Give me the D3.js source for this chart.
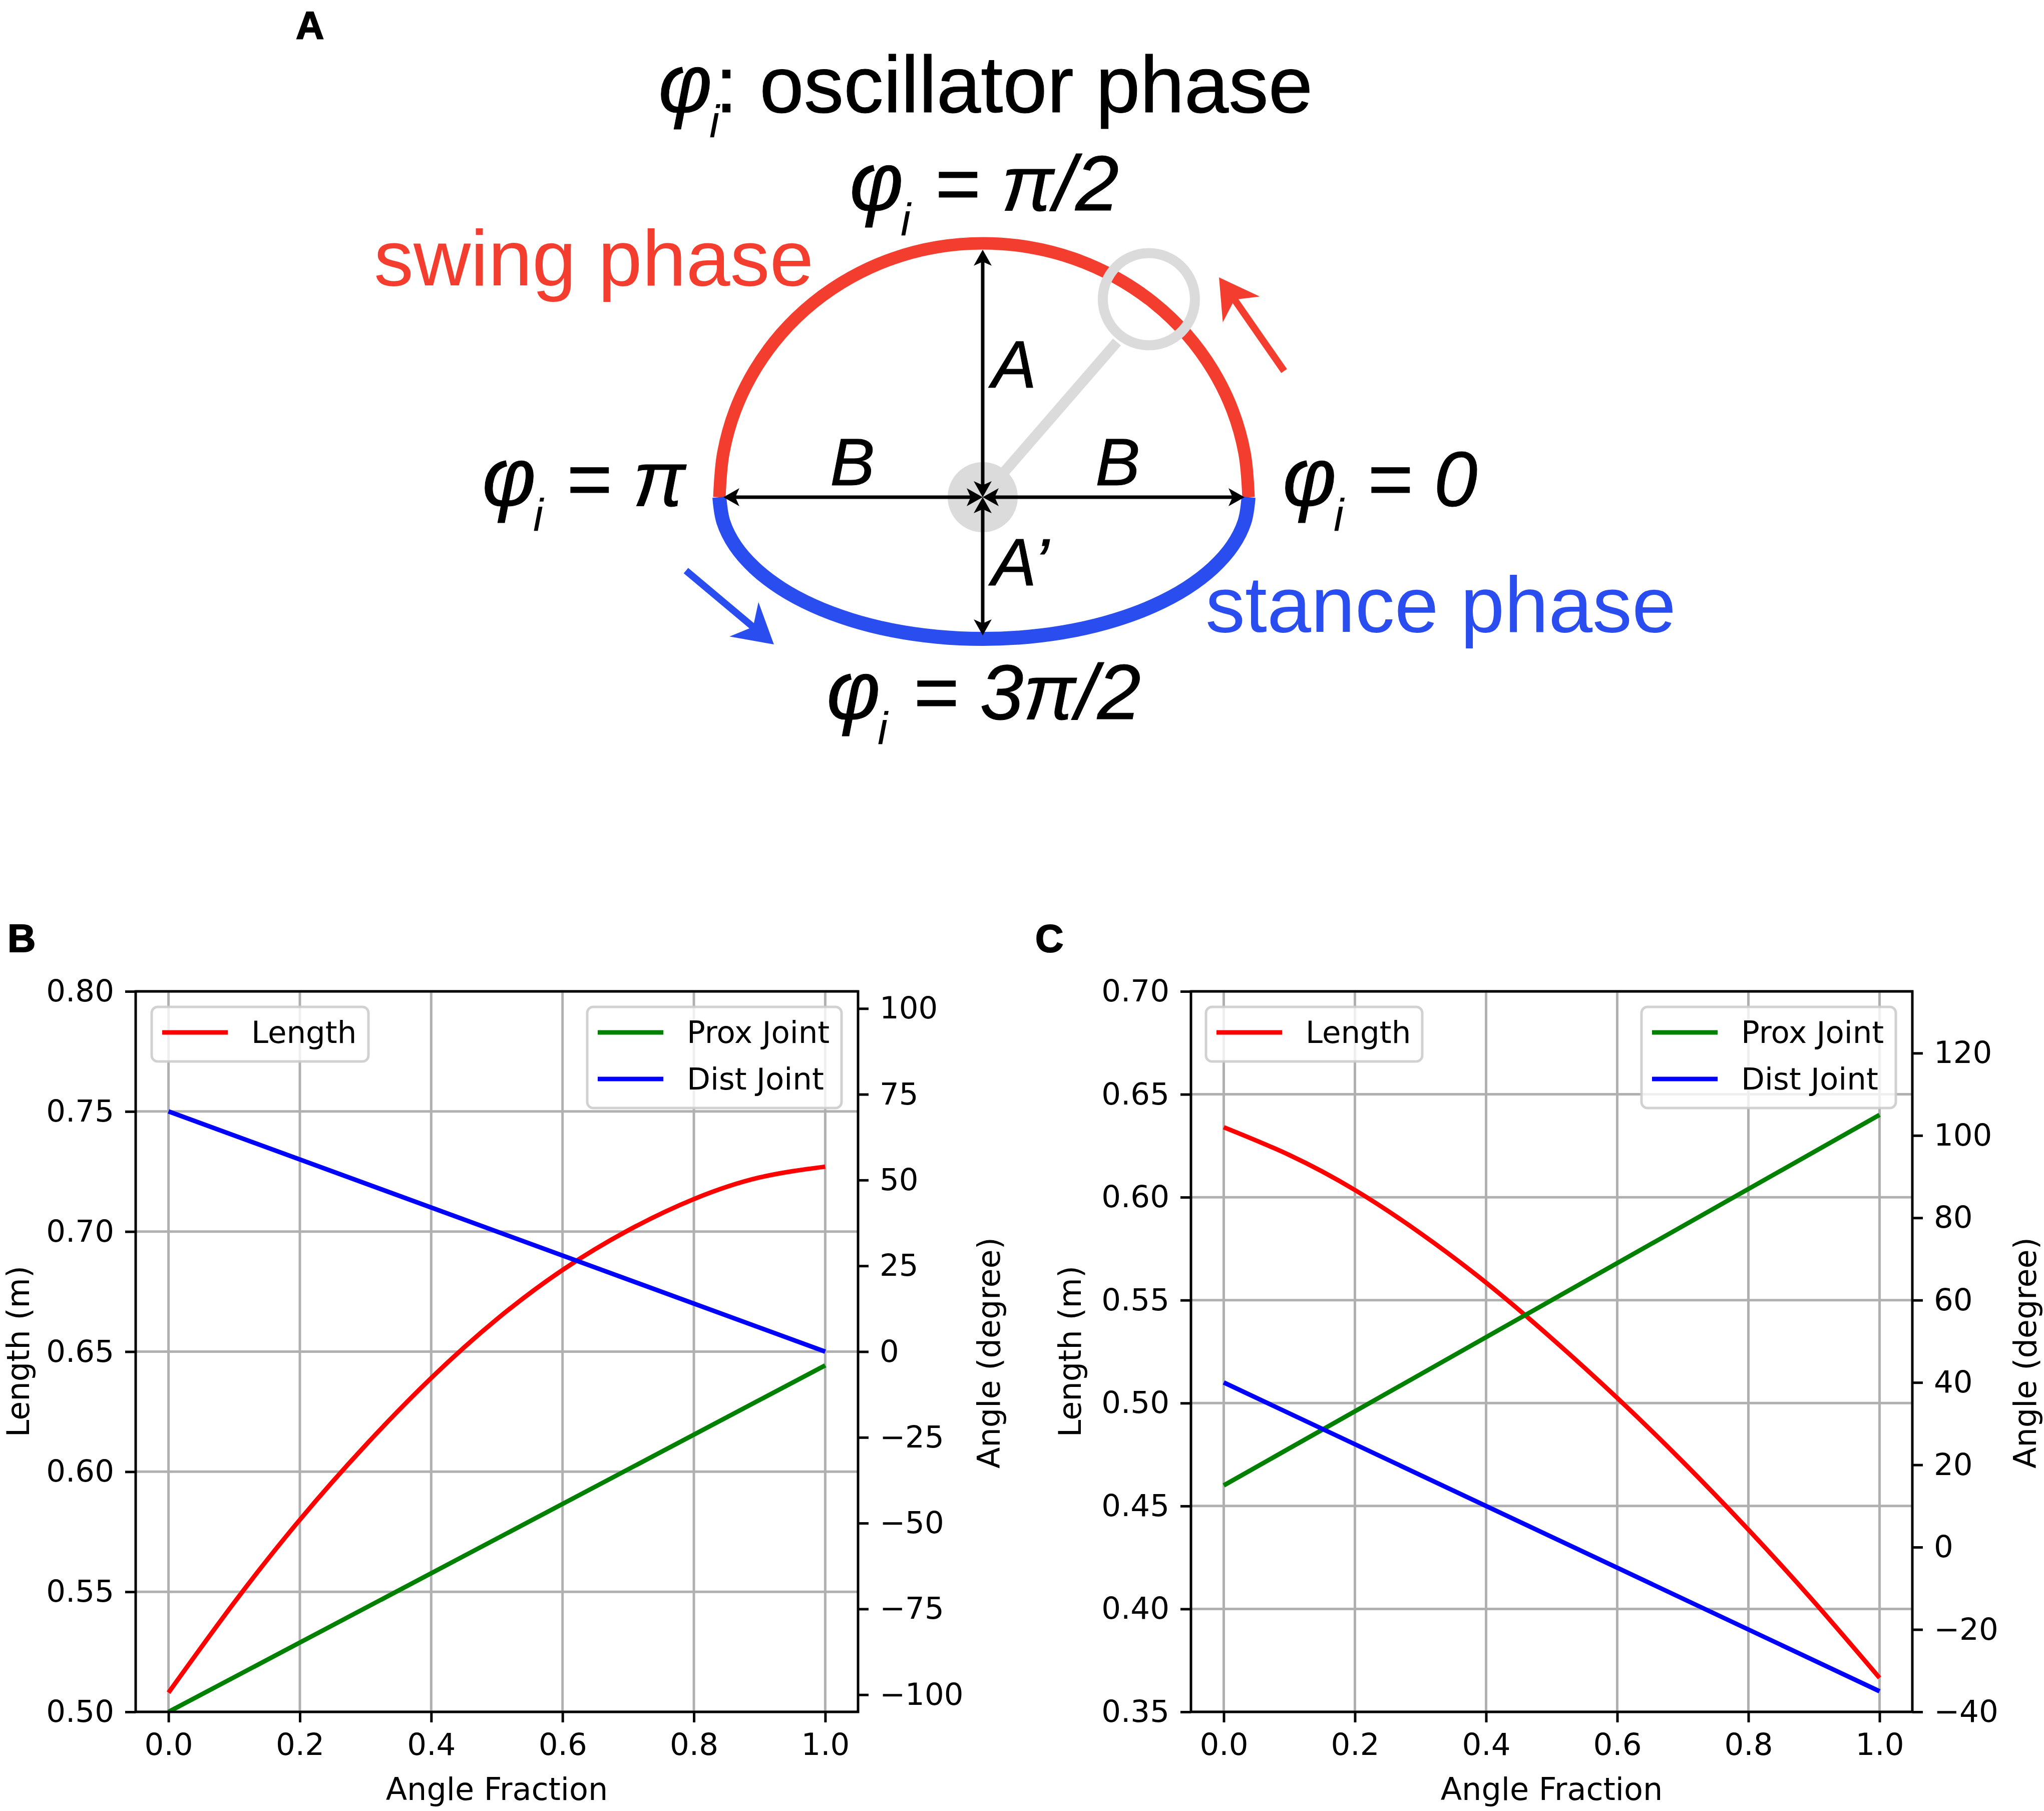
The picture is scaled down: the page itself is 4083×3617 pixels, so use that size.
<!DOCTYPE html>
<html>
<head>
<meta charset="utf-8">
<script src="https://cdn.jsdelivr.net/npm/d3@7"></script>
<style>
  html, body { margin: 0; background: #fff; }
  .mpl text { font-family: "DejaVu Sans"; fill: #000; }
  .sketch text { font-family: "Liberation Sans"; fill: #000; }
</style>
</head>
<body>
<div id="chart"></div>
<script>
// panel B and C values
const fractionTicks = [0, 0.2, 0.4, 0.6, 0.8, 1];
const fractionSamples = [0, 0.1, 0.2, 0.3, 0.4, 0.5, 0.6, 0.7, 0.8, 0.9, 1];
const jointSamples = [0, 1];

const lengthTicksB = [0.5, 0.55, 0.6, 0.65, 0.7, 0.75, 0.8];
const angleTicksB = [-100, -75, -50, -25, 0, 25, 50, 75, 100];
const lengthB = [0.508, 0.5455, 0.58, 0.611, 0.639, 0.6635, 0.684, 0.7005, 0.7135, 0.7225, 0.727];
const proxB = [-105, -4];
const distB = [70, 0];

const lengthTicksC = [0.35, 0.4, 0.45, 0.5, 0.55, 0.6, 0.65, 0.7];
const angleTicksC = [-40, -20, 0, 20, 40, 60, 80, 100, 120];
const lengthC = [0.634, 0.6205, 0.6035, 0.5825, 0.5585, 0.5315, 0.5025, 0.4715, 0.4385, 0.4035, 0.3665];
const proxC = [15, 105];
const distC = [40, -35];

// panel A outline, in units of B (x) and A or A' (y)
const outlineX = [1, 0.985, 0.94, 0.866, 0.766, 0.643, 0.5, 0.342, 0.174, 0, -0.174, -0.342, -0.5, -0.643, -0.766, -0.866, -0.94, -0.985, -1];
const swingY = [0, 0.174, 0.342, 0.5, 0.643, 0.766, 0.866, 0.94, 0.985, 1, 0.985, 0.94, 0.866, 0.766, 0.643, 0.5, 0.342, 0.174, 0];
const stanceY = [0, -0.174, -0.342, -0.5, -0.643, -0.766, -0.866, -0.94, -0.985, -1, -0.985, -0.94, -0.866, -0.766, -0.643, -0.5, -0.342, -0.174, 0];

const RED = "#f33e2f", BLUE = "#2a4df0", GREY = "#dbdbdb";

const svg = d3.select("#chart").append("svg")
    .attr("width", 4083)
    .attr("height", 3617)
    .style("display", "block");

const defs = svg.append("defs");
defs.append("marker")
    .attr("id", "tip")
    .attr("markerUnits", "userSpaceOnUse")
    .attr("viewBox", "0 -18 32 36")
    .attr("refX", 8)
    .attr("refY", 0)
    .attr("markerWidth", 32)
    .attr("markerHeight", 36)
    .attr("orient", "auto-start-reverse")
    .append("path")
    .attr("d", "M0,-18L32,0L0,18L8,0Z")
    .attr("fill", "#000");

drawSketch();

drawPanel({
    id: "B", letterX: 15, left: 271, right: 1714,
    lengthDomain: [0.5, 0.8], angleDomain: [-105, 105],
    lengthTicks: lengthTicksB, angleTicks: angleTicksB,
    length: lengthB, prox: proxB, dist: distB,
    lengthLabelX: 58, angleLabelX: 1997,
    lengthBox: [303, 736], jointBox: [1173, 1681]
});

drawPanel({
    id: "C", letterX: 2068, left: 2379, right: 3820,
    lengthDomain: [0.35, 0.7], angleDomain: [-40, 135],
    lengthTicks: lengthTicksC, angleTicks: angleTicksC,
    length: lengthC, prox: proxC, dist: distC,
    lengthLabelX: 2159, angleLabelX: 4067,
    lengthBox: [2409, 2841], jointBox: [3279, 3787]
});

function drawPanel(p) {
    const top = 1980, bottom = 3419;
    const g = svg.append("g").attr("class", "mpl");

    const x = d3.scaleLinear().domain([-0.05, 1.05]).range([p.left, p.right]);
    const yLen = d3.scaleLinear().domain(p.lengthDomain).range([bottom, top]);
    const yAng = d3.scaleLinear().domain(p.angleDomain).range([bottom, top]);

    // grid
    g.append("g").selectAll("line").data(fractionTicks).join("line")
        .attr("x1", d => x(d)).attr("x2", d => x(d))
        .attr("y1", top).attr("y2", bottom)
        .attr("stroke", "#b0b0b0").attr("stroke-width", 5);
    g.append("g").selectAll("line").data(p.lengthTicks).join("line")
        .attr("x1", p.left).attr("x2", p.right)
        .attr("y1", d => yLen(d)).attr("y2", d => yLen(d))
        .attr("stroke", "#b0b0b0").attr("stroke-width", 5);

    // curves
    defs.append("clipPath").attr("id", "clip" + p.id).append("rect")
        .attr("x", p.left).attr("y", top)
        .attr("width", p.right - p.left).attr("height", bottom - top);
    const curves = g.append("g").attr("clip-path", "url(#clip" + p.id + ")");
    const lenLine = d3.line().x((d, i) => x(fractionSamples[i])).y(d => yLen(d)).curve(d3.curveNatural);
    const angLine = d3.line().x((d, i) => x(jointSamples[i])).y(d => yAng(d));
    curves.append("path").attr("d", lenLine(p.length)).attr("fill", "none").attr("stroke", "#ff0000").attr("stroke-width", 9);
    curves.append("path").attr("d", angLine(p.prox)).attr("fill", "none").attr("stroke", "#008000").attr("stroke-width", 9);
    curves.append("path").attr("d", angLine(p.dist)).attr("fill", "none").attr("stroke", "#0000ff").attr("stroke-width", 9);

    // axes
    const styleAxis = a => {
        a.selectAll("text").attr("font-size", 61).attr("font-family", "DejaVu Sans").attr("fill", "#000");
        a.selectAll("line").attr("stroke-width", 5).attr("stroke", "#000");
        a.select(".domain").remove();
    };
    g.append("g").attr("transform", `translate(0,${bottom})`)
        .call(d3.axisBottom(x).tickValues(fractionTicks).tickFormat(d3.format(".1f")).tickSize(21).tickPadding(22))
        .call(styleAxis);
    g.append("g").attr("transform", `translate(${p.left},0)`)
        .call(d3.axisLeft(yLen).tickValues(p.lengthTicks).tickFormat(d3.format(".2f")).tickSize(21).tickPadding(22))
        .call(styleAxis);
    g.append("g").attr("transform", `translate(${p.right},0)`)
        .call(d3.axisRight(yAng).tickValues(p.angleTicks).tickFormat(d3.format("d")).tickSize(21).tickPadding(22))
        .call(styleAxis);

    g.append("rect")
        .attr("x", p.left).attr("y", top)
        .attr("width", p.right - p.left).attr("height", bottom - top)
        .attr("fill", "none").attr("stroke", "#000").attr("stroke-width", 5);

    // axis titles
    g.append("text").text("Angle Fraction")
        .attr("x", (p.left + p.right) / 2).attr("y", 3595)
        .attr("text-anchor", "middle").attr("font-size", 62);
    g.append("text").text("Length (m)")
        .attr("transform", `translate(${p.lengthLabelX},2699) rotate(-90)`)
        .attr("text-anchor", "middle").attr("font-size", 62);
    g.append("text").text("Angle (degree)")
        .attr("transform", `translate(${p.angleLabelX},2702) rotate(-90)`)
        .attr("text-anchor", "middle").attr("font-size", 62);

    // legends
    legend(g, p.lengthBox, 2011, 2120, [["Length", "#ff0000"]]);
    legend(g, p.jointBox, 2011, 2213, [["Prox Joint", "#008000"], ["Dist Joint", "#0000ff"]]);

    svg.append("text").text(p.id)
        .attr("x", p.letterX).attr("y", 1901)
        .attr("font-family", "Liberation Sans").attr("font-weight", "bold")
        .attr("font-size", 78).attr("stroke", "#000").attr("stroke-width", 2);
}

function legend(g, box, y0, y1, rows) {
    g.append("rect")
        .attr("x", box[0]).attr("y", y0)
        .attr("width", box[1] - box[0]).attr("height", y1 - y0)
        .attr("rx", 12)
        .attr("fill", "#fff").attr("fill-opacity", 0.8)
        .attr("stroke", "#cccccc").attr("stroke-opacity", 0.9).attr("stroke-width", 5);
    rows.forEach((r, i) => {
        const y = 2062 + i * 93;
        g.append("line")
            .attr("x1", box[0] + 21).attr("x2", box[0] + 152)
            .attr("y1", y).attr("y2", y)
            .attr("stroke", r[1]).attr("stroke-width", 9);
        g.append("text").text(r[0])
            .attr("x", box[0] + 199).attr("y", y + 21)
            .attr("font-size", 61);
    });
}

function drawSketch() {
    const g = svg.append("g").attr("class", "sketch");
    const xA = d3.scaleLinear().domain([-1, 0, 1]).range([1437, 1963, 2494]);
    const yA = d3.scaleLinear().domain([-1, 0, 1]).range([1276, 993, 486]);

    const outline = d3.line().x((d, i) => xA(outlineX[i])).y(d => yA(d)).curve(d3.curveCatmullRom);
    g.append("path").attr("d", outline(swingY)).attr("fill", "none").attr("stroke", RED).attr("stroke-width", 25);
    g.append("path").attr("d", outline(stanceY)).attr("fill", "none").attr("stroke", BLUE).attr("stroke-width", 28);

    // hub, link and ring
    g.append("circle").attr("cx", xA(0)).attr("cy", yA(0)).attr("r", 70).attr("fill", GREY);
    g.append("line")
        .attr("x1", xA(0.07)).attr("y1", yA(0.086))
        .attr("x2", xA(0.505)).attr("y2", yA(0.611))
        .attr("stroke", GREY).attr("stroke-width", 21);
    g.append("circle").attr("cx", xA(0.625)).attr("cy", yA(0.78)).attr("r", 92)
        .attr("fill", "none").attr("stroke", GREY).attr("stroke-width", 20);

    // black double arrows, both ends pulled back so the heads land on the tips
    const inset = 24;
    [[0, 0.975], [0, -0.975], [-0.985, 0], [0.985, 0]].forEach(d => {
        const ex = xA(d[0]), ey = yA(d[1]), cx = xA(0), cy = yA(0);
        const len = Math.hypot(ex - cx, ey - cy);
        const ux = (ex - cx) / len, uy = (ey - cy) / len;
        g.append("line")
            .attr("x1", cx + ux * inset).attr("y1", cy + uy * inset)
            .attr("x2", ex - ux * inset).attr("y2", ey - uy * inset)
            .attr("stroke", "#000").attr("stroke-width", 7)
            .attr("marker-start", "url(#tip)").attr("marker-end", "url(#tip)");
    });

    // direction arrows
    bigArrow(g, [xA(1.134), yA(0.497)], [xA(0.889), yA(0.866)], RED);
    bigArrow(g, [xA(-1.127), yA(-0.518)], [xA(-0.793), yA(-1.039)], BLUE);

    // labels
    g.append("text").text("swing phase").attr("x", 747).attr("y", 570).attr("font-size", 158).style("fill", RED);
    g.append("text").text("stance phase").attr("x", 2408).attr("y", 1262).attr("font-size", 158).style("fill", BLUE);

    phaseLabel(g, 1315, 224, ": oscillator phase", 1429, 159, false);
    phaseLabel(g, 1697, 420, "= π/2", 1866, 156, true);
    phaseLabel(g, 963, 1010, "= π", 1130, 156, true);
    phaseLabel(g, 2562, 1010, "= 0", 2730, 156, true);
    phaseLabel(g, 1651, 1436, "= 3π/2", 1823, 156, true);

    [["A", 1981, 774], ["A’", 1981, 1169], ["B", 1658, 969], ["B", 2188, 969]].forEach(d => {
        g.append("text").text(d[0]).attr("x", d[1]).attr("y", d[2])
            .attr("font-size", 134).attr("font-style", "italic")
            .attr("stroke", "#000").attr("stroke-width", 1);
    });

    g.append("text").text("A").attr("x", 591).attr("y", 78)
        .attr("font-weight", "bold").attr("font-size", 78)
        .attr("stroke", "#000").attr("stroke-width", 2);
}

function phaseLabel(g, x, y, rest, restX, size, italicRest) {
    g.append("text").text("φ").attr("x", x).attr("y", y).attr("font-size", 165).attr("font-style", "italic")
        .attr("stroke", "#000").attr("stroke-width", 1);
    g.append("text").text("i").attr("x", x + 102).attr("y", y + 50).attr("font-size", 90).attr("font-style", "italic");
    g.append("text").text(rest).attr("x", restX).attr("y", y)
        .attr("font-size", size)
        .attr("font-style", italicRest ? "italic" : "normal")
        .attr("stroke", "#000").attr("stroke-width", 1);
}

function bigArrow(g, tail, tip, color) {
    const len = Math.hypot(tip[0] - tail[0], tip[1] - tail[1]);
    const ux = (tip[0] - tail[0]) / len, uy = (tip[1] - tail[1]) / len;
    const at = (back, side) => [tip[0] - ux * back - uy * side, tip[1] - uy * back + ux * side];
    g.append("path")
        .attr("d", d3.line()([at(len, 7), at(58, 7), at(78, 45), tip, at(78, -45), at(58, -7), at(len, -7)]) + "Z")
        .attr("fill", color);
}
</script>
</body>
</html>
